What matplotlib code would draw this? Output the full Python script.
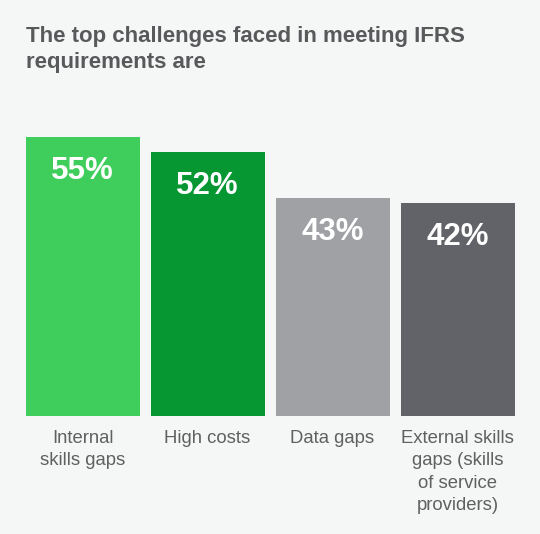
import matplotlib
matplotlib.use("Agg")
import matplotlib.pyplot as plt

categories = ["Internal\nskills gaps", "High costs", "Data gaps",
              "External skills\ngaps (skills\nof service\nproviders)"]
values = [55, 52, 43, 42]
value_labels = ["55%", "52%", "43%", "42%"]
colors = ["#3fce5b", "#069733", "#a0a1a5", "#626368"]
title = "The top challenges faced in meeting IFRS\nrequirements are"

W, H = 540, 534
bg = "#f5f6f6"
plt.rcParams['font.family'] = ['Liberation Sans', 'DejaVu Sans']

fig = plt.figure(figsize=(W / 100, H / 100), dpi=100, facecolor=bg)
ax = fig.add_axes([20 / W, (H - 416) / H, 500 / W, 304.2 / H])
ax.set_facecolor(bg)
x = list(range(len(values)))
ax.bar(x, values, width=0.912, color=colors)
ax.set_xlim(-0.5, 3.5)
ax.set_ylim(0, 60)
ax.axis('off')

for xi, v, lab in zip(x, values, value_labels):
    ax.annotate(lab, (xi, v), xytext=(0, -34 * 0.72), textcoords='offset points',
                ha='center', va='center', color='white', fontsize=22.5,
                fontweight='bold')

for xi, c in zip(x, categories):
    ax.annotate(c, (xi, 0), xytext=(0, -14 * 0.72), textcoords='offset points',
                ha='center', va='top', color='#606060', fontsize=13.3,
                linespacing=1.42)

fig.text(26 / W, 1 - 26 / H, title, ha='left', va='top', color='#58595b',
         fontsize=16, fontweight='bold', linespacing=1.3)

fig.savefig("out.png", dpi=100, facecolor=bg)
